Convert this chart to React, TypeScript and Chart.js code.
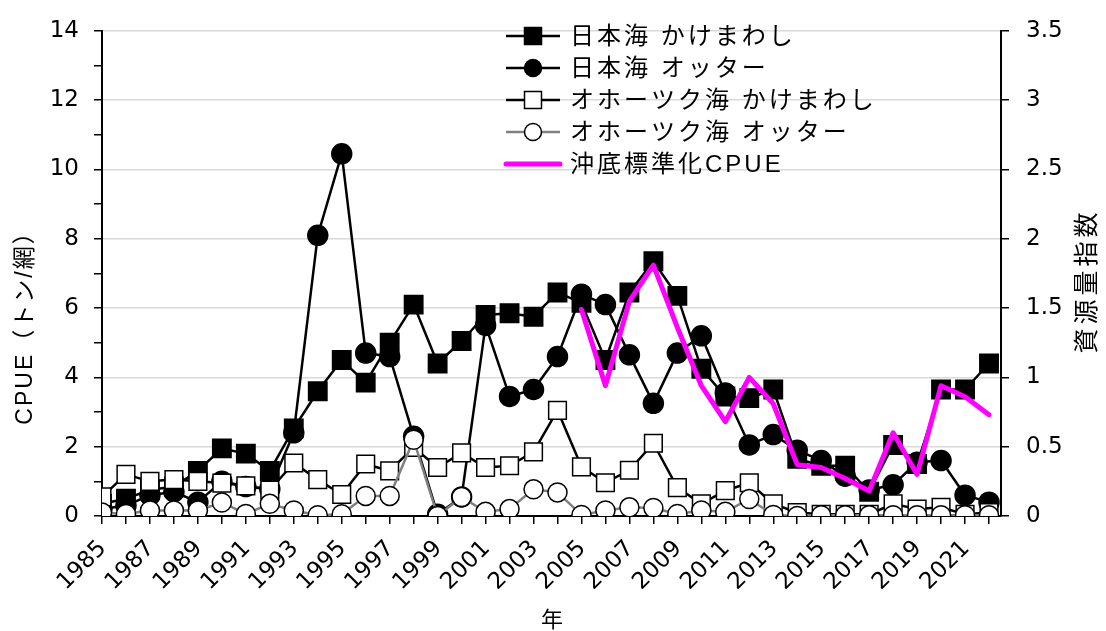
import React, { useEffect, useRef } from "react";
import { Chart, registerables } from "chart.js";

Chart.register(...registerables);

// ---------- data ----------
const years = [
  1985, 1986, 1987, 1988, 1989, 1990, 1991, 1992, 1993, 1994,
  1995, 1996, 1997, 1998, 1999, 2000, 2001, 2002, 2003, 2004,
  2005, 2006, 2007, 2008, 2009, 2010, 2011, 2012, 2013, 2014,
  2015, 2016, 2017, 2018, 2019, 2020, 2021, 2022,
];

const xLabelYears = [
  1985, 1987, 1989, 1991, 1993, 1995, 1997, 1999, 2001, 2003,
  2005, 2007, 2009, 2011, 2013, 2015, 2017, 2019, 2021,
];

// 日本海 かけまわし
const jpnKake = [
  0.35, 0.5, 0.75, 0.85, 1.3, 1.95, 1.8, 1.3, 2.53, 3.6,
  4.5, 3.85, 5.0, 6.1, 4.4, 5.05, 5.8, 5.85, 5.75, 6.45,
  6.15, 4.5, 6.45, 7.35, 6.35, 4.25, 3.45, 3.4, 3.65, 1.65,
  1.45, 1.45, 0.7, 2.05, 1.5, 3.65, 3.65, 4.4,
];

// 日本海 オッター
const jpnOtter = [
  0.2, 0.3, 0.6, 0.7, 0.4, 1.0, 0.85, 0.78, 2.4, 8.1,
  10.45, 4.7, 4.6, 2.3, 0.05, 0.55, 5.5, 3.45, 3.65, 4.6,
  6.4, 6.1, 4.65, 3.25, 4.7, 5.2, 3.55, 2.05, 2.35, 1.9,
  1.6, 1.15, 0.75, 0.9, 1.55, 1.6, 0.6, 0.4,
];

// オホーツク海 かけまわし
const okhKake = [
  0.55, 1.2, 1.0, 1.05, 1.0, 0.95, 0.87, 0.75, 1.53, 1.05,
  0.62, 1.5, 1.3, 1.98, 1.4, 1.82, 1.4, 1.45, 1.85, 3.05,
  1.42, 0.96, 1.32, 2.1, 0.82, 0.35, 0.73, 0.96, 0.35, 0.1,
  0.05, 0.05, 0.05, 0.35, 0.2, 0.25, 0.05, 0.1,
];

// オホーツク海 オッター
const okhOtter = [
  0.1, 0.06, 0.16, 0.16, 0.16, 0.39, 0.06, 0.35, 0.16, 0.02,
  0.05, 0.58, 0.58, 2.2, 0.0, 0.55, 0.12, 0.2, 0.77, 0.68,
  0.03, 0.16, 0.25, 0.23, 0.06, 0.16, 0.12, 0.49, 0.03, 0.0,
  0.02, 0.02, 0.02, 0.02, 0.02, 0.02, 0.02, 0.02,
];

// 沖底標準化CPUE (資源量指数, right axis)
const stdCpue = [
  null, null, null, null, null, null, null, null, null, null,
  null, null, null, null, null, null, null, null, null, null,
  1.49, 0.94, 1.55, 1.81, 1.36, 0.94, 0.68, 1.0, 0.81, 0.37,
  0.35, 0.27, 0.18, 0.6, 0.3, 0.94, 0.86, 0.73,
];

const seriesLabels = [
  "日本海 かけまわし",
  "日本海 オッター",
  "オホーツク海 かけまわし",
  "オホーツク海 オッター",
  "沖底標準化CPUE",
];

const leftTitle = "CPUE（トン/網）";
const rightTitle = "資源量指数";
const xTitle = "年";

// ---------- styling ----------
const FONT_NUM = '"DejaVu Sans", "Liberation Sans", sans-serif';
const FONT_JP = '"Noto Sans CJK JP", "Noto Sans", sans-serif';
const FONT_MIX = '"Liberation Sans", "Noto Sans CJK JP", sans-serif';
const PINK = "#ff00ff";
const GRAY = "#808080";

const toPoints = (vals: (number | null)[]) =>
  years
    .map((x, i) => ({ x, y: vals[i] }))
    .filter((p) => p.y !== null && p.y !== undefined);

function drawMarker(ctx: CanvasRenderingContext2D, kind: string, x: number, y: number, fill: string) {
  ctx.beginPath();
  if (kind === "rect") ctx.rect(x - 8.5, y - 8.5, 17, 17);
  else ctx.arc(x, y, 8.5, 0, Math.PI * 2);
  ctx.fillStyle = fill;
  ctx.fill();
  ctx.lineWidth = 1.5;
  ctx.strokeStyle = "#000";
  ctx.stroke();
}

const overlayPlugin = {
  id: "overlay",
  afterDraw(chart: any) {
    const ctx: CanvasRenderingContext2D = chart.ctx;
    const xs = chart.scales.x;
    ctx.save();
    ctx.fillStyle = "#000";

    // x tick labels (rotated)
    ctx.font = `23px ${FONT_NUM}`;
    ctx.textAlign = "right";
    ctx.textBaseline = "middle";
    for (const yr of xLabelYears) {
      const px = xs.getPixelForValue(yr);
      ctx.save();
      ctx.translate(px + 1, 545);
      ctx.rotate(-Math.PI / 4);
      ctx.fillText(String(yr), 0, 0);
      ctx.restore();
    }

    // x title
    ctx.textAlign = "center";
    ctx.textBaseline = "middle";
    ctx.font = `22px ${FONT_JP}`;
    ctx.fillText(xTitle, 552, 619);

    // left title
    ctx.save();
    ctx.translate(26, 322);
    ctx.rotate(-Math.PI / 2);
    ctx.textAlign = "center";
    ctx.font = `23px ${FONT_MIX}`;
    (ctx as any).letterSpacing = "2px";
    ctx.fillText(leftTitle, 0, 0);
    ctx.restore();

    // right title
    ctx.save();
    ctx.translate(1085, 283);
    ctx.rotate(-Math.PI / 2);
    ctx.textAlign = "center";
    ctx.font = `25px ${FONT_JP}`;
    (ctx as any).letterSpacing = "4px";
    ctx.fillText(rightTitle, 2, 0);
    ctx.restore();

    // legend
    const rows = [
      { line: "#000", lw: 2.5, kind: "rect", fill: "#000" },
      { line: "#000", lw: 2.5, kind: "circle", fill: "#000" },
      { line: "#000", lw: 2.5, kind: "rect", fill: "#fff" },
      { line: GRAY, lw: 2.5, kind: "circle", fill: "#fff" },
      { line: PINK, lw: 5, kind: "none", fill: "" },
    ];
    rows.forEach((r, i) => {
      const y = 36 + i * 32;
      ctx.beginPath();
      ctx.moveTo(506, y);
      ctx.lineTo(560, y);
      ctx.strokeStyle = r.line;
      ctx.lineWidth = r.lw;
      ctx.lineCap = r.kind === "none" ? "round" : "butt";
      ctx.stroke();
      if (r.kind !== "none") drawMarker(ctx, r.kind, 533, y, r.fill);
      ctx.fillStyle = "#000";
      ctx.font = `24px ${FONT_MIX}`;
      (ctx as any).letterSpacing = "3px";
      ctx.textAlign = "left";
      ctx.textBaseline = "middle";
      ctx.fillText(seriesLabels[i], 570, y + 1);
    });
    (ctx as any).letterSpacing = "0px";
    ctx.restore();
  },
};

export default function App() {
  const canvasRef = useRef<HTMLCanvasElement | null>(null);

  useEffect(() => {
    if (!canvasRef.current) return;
    const common = {
      borderWidth: 2.5,
      borderJoinStyle: "round",
      tension: 0,
      pointBorderWidth: 1.5,
      pointBorderColor: "#000",
    };
    const chart = new Chart(canvasRef.current, {
      type: "line",
      data: {
        datasets: [
          {
            ...common,
            label: seriesLabels[0],
            data: toPoints(jpnKake),
            yAxisID: "y",
            borderColor: "#000",
            pointStyle: "rect",
            pointRadius: 13,
            pointBackgroundColor: "#000",
            order: 4,
          },
          {
            ...common,
            label: seriesLabels[1],
            data: toPoints(jpnOtter),
            yAxisID: "y",
            borderColor: "#000",
            pointStyle: "circle",
            pointRadius: 10,
            pointBackgroundColor: "#000",
            order: 3,
          },
          {
            ...common,
            label: seriesLabels[2],
            data: toPoints(okhKake),
            yAxisID: "y",
            borderColor: "#000",
            pointStyle: "rect",
            pointRadius: 12.5,
            pointBackgroundColor: "#fff",
            order: 2,
          },
          {
            ...common,
            label: seriesLabels[3],
            data: toPoints(okhOtter),
            yAxisID: "y",
            borderColor: GRAY,
            pointStyle: "circle",
            pointRadius: 9.5,
            pointBackgroundColor: "#fff",
            order: 1,
          },
          {
            label: seriesLabels[4],
            data: toPoints(stdCpue),
            yAxisID: "y1",
            borderColor: PINK,
            borderWidth: 5,
            borderJoinStyle: "round",
            borderCapStyle: "round",
            pointRadius: 0,
            tension: 0,
            order: 0,
          },
        ],
      } as any,
      options: {
        animation: false,
        responsive: false,
        maintainAspectRatio: false,
        layout: { padding: { top: 25, left: 0, right: 0, bottom: 0 } },
        plugins: { legend: { display: false }, tooltip: { enabled: false } },
        scales: {
          x: {
            type: "linear",
            min: 1985,
            max: 2022.5,
            afterBuildTicks: (s: any) => {
              s.ticks = years.map((v) => ({ value: v }));
            },
            afterFit: (s: any) => {
              s.height = 115;
            },
            ticks: { display: false },
            grid: { drawOnChartArea: false, drawTicks: true, tickLength: 8, color: "#000", lineWidth: 1.5 },
            border: { display: true, color: "#000", width: 2 },
          },
          y: {
            position: "left",
            min: 0,
            max: 14,
            afterFit: (s: any) => {
              s.width = 102;
            },
            ticks: {
              stepSize: 1,
              autoSkip: false,
              padding: 15,
              color: "#000",
              font: { family: FONT_NUM, size: 23 },
              callback: (v: any) => (Number(v) % 2 === 0 ? String(v) : ""),
            },
            grid: {
              color: (c: any) =>
                c.tick && c.tick.value % 2 === 0 && c.tick.value > 0 ? "#d9d9d9" : "rgba(0,0,0,0)",
              tickColor: "#000",
              tickLength: 8,
              lineWidth: 1.5,
            },
            border: { color: "#000", width: 2 },
          },
          y1: {
            position: "right",
            min: 0,
            max: 3.5,
            afterFit: (s: any) => {
              s.width = 105;
            },
            ticks: {
              stepSize: 0.5,
              autoSkip: false,
              padding: 17,
              color: "#000",
              font: { family: FONT_NUM, size: 23 },
              callback: (v: any) => String(v),
            },
            grid: { drawOnChartArea: false, color: "#000", tickLength: 8, lineWidth: 1.5 },
            border: { color: "#000", width: 2 },
          },
        },
      } as any,
      plugins: [overlayPlugin as any],
    });
    return () => chart.destroy();
  }, []);

  return (
    <div style={{ position: "fixed", left: 0, top: 0, width: 1106, height: 631, background: "#fff" }}>
      <canvas ref={canvasRef} width={1106} height={631} style={{ width: 1106, height: 631, display: "block" }} />
    </div>
  );
}
